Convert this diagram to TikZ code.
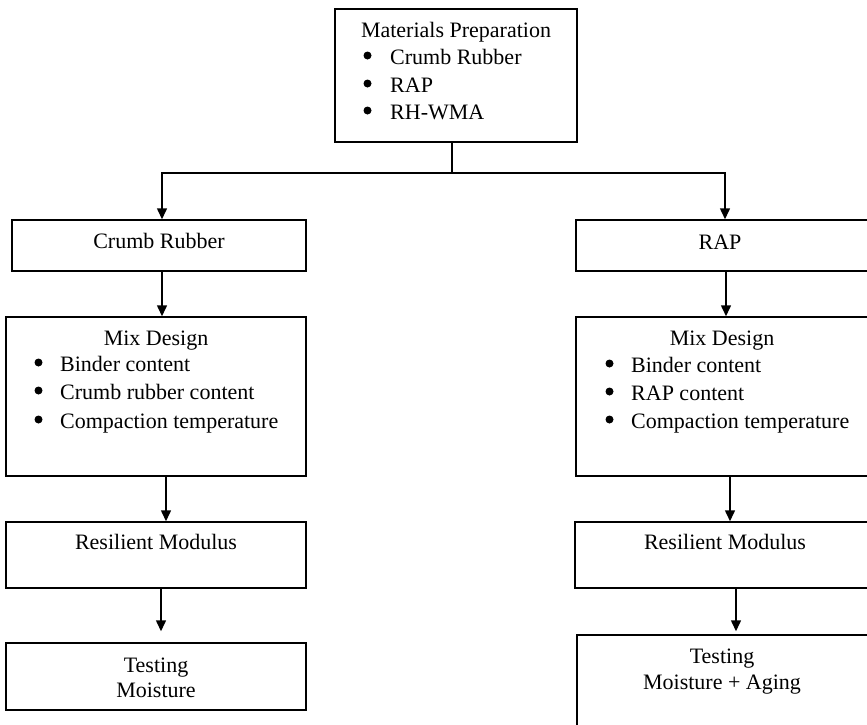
\documentclass[tikz,border=0pt]{standalone}
\usepackage{fontspec}
\setmainfont{Liberation Serif}
\usetikzlibrary{arrows.meta}

\tikzset{
  box/.style={draw, line width=1.5pt, rectangle, inner sep=0pt},
  txt/.style={inner sep=0pt, font=\fontsize{22pt}{27pt}\selectfont},
  dot/.style={circle, fill, inner sep=0pt, minimum size=8pt},
  arr/.style={line width=1.5pt, -{Triangle[length=11pt,width=10pt]}},
  link/.style={line width=1.5pt},
}

\begin{document}
\begin{tikzpicture}[x=1pt,y=-1pt]
\useasboundingbox (0,0) rectangle (867,724);
\clip (0,0) rectangle (867,724);

% ---- boxes ----
\node[box, minimum width=242pt, minimum height=133pt] (top)   at (456,75.5) {};
\node[box, minimum width=294pt, minimum height=51pt]  (crumb) at (159,245.5) {};
\node[box, minimum width=300pt, minimum height=159pt] (mixA)  at (156,396.5) {};
\node[box, minimum width=300pt, minimum height=66pt]  (resA)  at (156,555) {};
\node[box, minimum width=300pt, minimum height=67pt]  (testA) at (156,676.5) {};

\node[box, minimum width=298pt, minimum height=51pt]  (rap)   at (725,245.5) {};
\node[box, minimum width=292pt, minimum height=159pt] (mixB)  at (722,396.5) {};
\node[box, minimum width=300pt, minimum height=66pt]  (resB)  at (725,555) {};
\node[box, minimum width=293pt, minimum height=110pt] (testB) at (723.5,690) {};

% ---- texts ----
\node[txt, anchor=base] (topH) at (456,37) {Materials Preparation};
\node[dot] (topD1) at (367.5,55.5) {};
\node[dot] (topD2) at (367.5,83.5) {};
\node[dot] (topD3) at (367.5,110.5) {};
\node[txt, anchor=base west] (topI1) at (390,64)  {Crumb Rubber};
\node[txt, anchor=base west] (topI2) at (390,92)  {RAP};
\node[txt, anchor=base west] (topI3) at (390,119) {RH-WMA};

\node[txt, anchor=base] (crumbT) at (159,248) {Crumb Rubber};
\node[txt, anchor=base] (rapT)   at (720,249) {RAP};

\node[txt, anchor=base] (mixAH) at (156,345) {Mix Design};
\node[dot] (mixAD1) at (38.5,362.5) {};
\node[dot] (mixAD2) at (38.5,390.5) {};
\node[dot] (mixAD3) at (38.5,419.5) {};
\node[txt, anchor=base west] (mixA1) at (60,371) {Binder content};
\node[txt, anchor=base west] (mixA2) at (60,399) {Crumb rubber content};
\node[txt, anchor=base west] (mixA3) at (60,428) {Compaction temperature};

\node[txt, anchor=base] (mixBH) at (722,345) {Mix Design};
\node[dot] (mixBD1) at (609.5,363.5) {};
\node[dot] (mixBD2) at (609.5,391.5) {};
\node[dot] (mixBD3) at (609.5,419.5) {};
\node[txt, anchor=base west] (mixB1) at (631,372) {Binder content};
\node[txt, anchor=base west] (mixB2) at (631,400) {RAP content};
\node[txt, anchor=base west] (mixB3) at (631,428) {Compaction temperature};

\node[txt, anchor=base] (resAT) at (156,549) {Resilient Modulus};
\node[txt, anchor=base] (resBT) at (725,549) {Resilient Modulus};

\node[txt, anchor=base] (testA1) at (156,672) {Testing};
\node[txt, anchor=base] (testA2) at (156,697) {Moisture};
\node[txt, anchor=base] (testB1) at (722,663) {Testing};
\node[txt, anchor=base] (testB2) at (722,689) {Moisture + Aging};

% ---- connectors ----
\coordinate (split) at (452,173);
\draw[link] ([xshift=-4pt]top.south) -- (split);
\draw[arr] (split) -| ([xshift=3pt]crumb.north);
\draw[arr] (split) -| (rap.north);

\draw[arr] ([xshift=3pt]crumb.south) -- ([xshift=3pt]crumb.south |- mixA.north);
\draw[arr] ([xshift=10pt]mixA.south) -- ([xshift=10pt]mixA.south |- resA.north);
\draw[arr, shorten >=11pt] ([xshift=5pt]resA.south) -- ([xshift=5pt]resA.south |- testA.north);

\draw[arr] ([xshift=1pt]rap.south) -- ([xshift=1pt]rap.south |- mixB.north);
\draw[arr] ([xshift=8pt]mixB.south) -- ([xshift=8pt]mixB.south |- resB.north);
\draw[arr, shorten >=3pt] ([xshift=11pt]resB.south) -- ([xshift=11pt]resB.south |- testB.north);
\end{tikzpicture}
\end{document}
